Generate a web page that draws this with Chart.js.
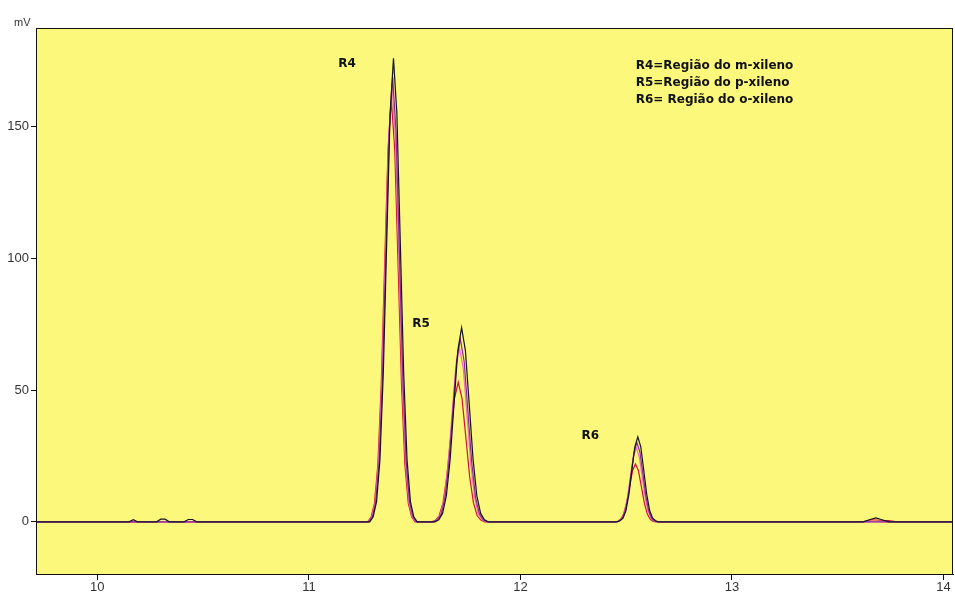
<!DOCTYPE html>
<html>
<head>
<meta charset="utf-8">
<script src="https://cdn.jsdelivr.net/npm/chart.js@4/dist/chart.umd.min.js"></script>
<style>
  html, body { margin: 0; padding: 0; background: #ffffff; }
  #wrap { width: 955px; height: 597px; }
</style>
</head>
<body>
<div id="wrap"><canvas id="c" width="955" height="597"></canvas></div>
<script>
// Retention time window (min) and signal window (mV)
const timeRange = [9.71, 14.045];
const signalRange = [-19.8, 187.5];
const xTicks = [10, 11, 12, 13, 14];
const yTicks = [0, 50, 100, 150];

// Chromatogram traces: [retention time (min), signal (mV)]
const traceRed = [
  [9.71, 0], [11.278, 0], [11.294, 1.8], [11.310, 7.0], [11.326, 21.6], [11.342, 52.0], [11.358, 97.0],
  [11.374, 141.2], [11.390, 160.0], [11.406, 141.2], [11.422, 97.0], [11.438, 52.0],
  [11.454, 21.6], [11.470, 7.0], [11.486, 1.8], [11.502, 0],
  [11.580, 0], [11.598, 0.6], [11.616, 2.3], [11.634, 7.2], [11.652, 17.2], [11.670, 32.1], [11.688, 46.8],
  [11.706, 53.0], [11.724, 46.8], [11.742, 32.1], [11.760, 17.2], [11.778, 7.2],
  [11.796, 2.3], [11.814, 0.6], [11.832, 0],
  [12.446, 0], [12.460, 0.2], [12.474, 1.0], [12.488, 3.0], [12.502, 7.1], [12.516, 13.3], [12.530, 19.4],
  [12.544, 22.0], [12.558, 19.4], [12.572, 13.3], [12.586, 7.1], [12.600, 3.0],
  [12.614, 1.0], [12.628, 0.2], [12.642, 0],
  [13.62, 0], [13.66, 0.8], [13.70, 0.6], [13.74, 0.5], [13.78, 0], [14.045, 0]
];

const tracePink = [
  [9.71, 0], [11.281, 0], [11.297, 1.8], [11.313, 7.2], [11.329, 22.3], [11.345, 53.6], [11.361, 100.1],
  [11.377, 145.6], [11.393, 166.0], [11.409, 145.6], [11.425, 100.1], [11.441, 53.6],
  [11.457, 22.3], [11.473, 7.2], [11.489, 1.8], [11.505, 0],
  [11.586, 0], [11.604, 0.7], [11.622, 2.9], [11.640, 8.9], [11.658, 21.4], [11.676, 40.0], [11.694, 58.2],
  [11.712, 66.0], [11.730, 58.2], [11.748, 40.0], [11.766, 21.4], [11.784, 8.9],
  [11.802, 2.9], [11.820, 0.7], [11.838, 0],
  [12.450, 0], [12.464, 0.3], [12.478, 1.2], [12.492, 3.8], [12.506, 9.1], [12.520, 17.0], [12.534, 24.7],
  [12.548, 28.0], [12.562, 24.7], [12.576, 17.0], [12.590, 9.1], [12.604, 3.8],
  [12.618, 1.2], [12.632, 0.3], [12.646, 0],
  [14.045, 0]
];

const traceViolet = [
  [9.71, 0], [11.284, 0], [11.300, 1.9], [11.316, 7.4], [11.332, 22.7], [11.348, 54.5], [11.364, 101.9],
  [11.380, 148.3], [11.396, 169.0], [11.412, 148.3], [11.428, 101.9], [11.444, 54.5],
  [11.460, 22.7], [11.476, 7.4], [11.492, 1.9], [11.508, 0],
  [11.590, 0], [11.608, 0.8], [11.626, 3.0], [11.644, 9.3], [11.662, 22.4], [11.680, 41.8], [11.698, 60.9],
  [11.716, 69.5], [11.734, 60.9], [11.752, 41.8], [11.770, 22.4], [11.788, 9.3],
  [11.806, 3.0], [11.824, 0.8], [11.842, 0],
  [12.453, 0], [12.467, 0.3], [12.481, 1.3], [12.495, 4.1], [12.509, 9.7], [12.523, 18.2], [12.537, 26.5],
  [12.551, 30.0], [12.565, 26.5], [12.579, 18.2], [12.593, 9.7], [12.607, 4.1],
  [12.621, 1.3], [12.635, 0.3], [12.649, 0],
  [14.045, 0]
];

const traceBlack = [
  [9.71, 0], [10.15, 0], [10.17, 0.8], [10.19, 0], [10.28, 0], [10.30, 1.0], [10.32, 1.0], [10.34, 0],
  [10.41, 0], [10.43, 0.9], [10.45, 0.9], [10.47, 0],
  [11.288, 0], [11.304, 1.9], [11.320, 7.7], [11.336, 23.7], [11.352, 57.0], [11.368, 106.5],
  [11.384, 155.0], [11.400, 176.0], [11.416, 155.0], [11.432, 106.5], [11.448, 57.0],
  [11.464, 23.7], [11.480, 7.7], [11.496, 1.9], [11.512, 0],
  [11.596, 0], [11.614, 0.8], [11.632, 3.2], [11.650, 9.9], [11.668, 23.9], [11.686, 44.7], [11.704, 65.0],
  [11.722, 73.7], [11.740, 65.0], [11.758, 44.7], [11.776, 23.9], [11.794, 9.9],
  [11.812, 3.2], [11.830, 0.8], [11.848, 0],
  [12.457, 0], [12.471, 0.4], [12.485, 1.4], [12.499, 4.3], [12.513, 10.5], [12.527, 19.6], [12.541, 28.5],
  [12.555, 32.3], [12.569, 28.5], [12.583, 19.6], [12.597, 10.5], [12.611, 4.3],
  [12.625, 1.4], [12.639, 0.4], [12.653, 0],
  [13.62, 0], [13.65, 0.8], [13.68, 1.5], [13.71, 0.8], [13.74, 0], [14.045, 0]
];

// Region labels placed at (time, mV)
const peakLabels = [
  { text: 'R4', t: 11.18, v: 174 },
  { text: 'R5', t: 11.53, v: 75 },
  { text: 'R6', t: 12.33, v: 32.5 }
];
const legendLines = [
  'R4=Região do m-xileno',
  'R5=Região do p-xileno',
  'R6= Região do o-xileno'
];
const legendAnchor = { t: 12.545, v: 173 };

const toXY = arr => arr.map(p => ({ x: p[0], y: p[1] }));

const plotBackground = {
  id: 'plotBackground',
  beforeDraw(chart) {
    const { ctx, chartArea: a } = chart;
    ctx.save();
    ctx.fillStyle = '#fbf87c';
    ctx.fillRect(a.left, a.top, a.right - a.left, a.bottom - a.top);
    ctx.restore();
  },
  afterDatasetsDraw(chart) {
    const { ctx, chartArea: a, scales } = chart;
    ctx.save();
    ctx.strokeStyle = '#111111';
    ctx.lineWidth = 1;
    ctx.strokeRect(a.left + 0.5, a.top + 0.5, a.right - a.left - 1, a.bottom - a.top);
    // unit label
    ctx.fillStyle = '#333333';
    ctx.font = '11px "Liberation Sans", Arial, sans-serif';
    ctx.textAlign = 'left';
    ctx.textBaseline = 'alphabetic';
    ctx.fillText('mV', 14, 26);
    // region labels
    ctx.fillStyle = '#111111';
    ctx.font = 'bold 12px "DejaVu Sans", sans-serif';
    ctx.textAlign = 'center';
    ctx.textBaseline = 'middle';
    peakLabels.forEach(l => {
      ctx.fillText(l.text, scales.x.getPixelForValue(l.t), scales.y.getPixelForValue(l.v));
    });
    ctx.textAlign = 'left';
    const lx = scales.x.getPixelForValue(legendAnchor.t);
    const ly = scales.y.getPixelForValue(legendAnchor.v);
    legendLines.forEach((s, i) => ctx.fillText(s, lx, ly + i * 17));
    ctx.restore();
  }
};

// first dataset is drawn on top
const series = [
  { data: traceBlack, color: '#14141e' },
  { data: traceViolet, color: '#8a2aa0' },
  { data: tracePink, color: '#f070c0' },
  { data: traceRed, color: '#d0103a' }
];

new Chart(document.getElementById('c'), {
  type: 'line',
  data: {
    datasets: series.map(s => ({
      data: toXY(s.data),
      borderColor: s.color,
      borderWidth: 1.2,
      pointRadius: 0,
      tension: 0,
      fill: false
    }))
  },
  options: {
    responsive: false,
    animation: false,
    events: [],
    layout: { padding: { left: 0, top: 28, right: 2, bottom: 0 } },
    plugins: { legend: { display: false }, tooltip: { enabled: false } },
    scales: {
      x: {
        type: 'linear',
        min: timeRange[0],
        max: timeRange[1],
        afterFit: s => { s.height = 23; },
        afterBuildTicks: s => { s.ticks = xTicks.map(v => ({ value: v })); },
        grid: { drawOnChartArea: false, drawTicks: true, tickLength: 6, color: '#111111' },
        border: { display: true, color: '#111111' },
        ticks: {
          color: '#333333',
          padding: 0,
          maxRotation: 0,
          font: { family: '"Liberation Sans", Arial, sans-serif', size: 13 }
        }
      },
      y: {
        type: 'linear',
        min: signalRange[0],
        max: signalRange[1],
        afterFit: s => { s.width = 36; },
        afterBuildTicks: s => { s.ticks = yTicks.map(v => ({ value: v })); },
        grid: { drawOnChartArea: false, drawTicks: true, tickLength: 5, color: '#111111' },
        border: { display: true, color: '#111111' },
        ticks: {
          color: '#333333',
          padding: 2,
          font: { family: '"Liberation Sans", Arial, sans-serif', size: 13 }
        }
      }
    }
  },
  plugins: [plotBackground]
});
</script>
</body>
</html>
